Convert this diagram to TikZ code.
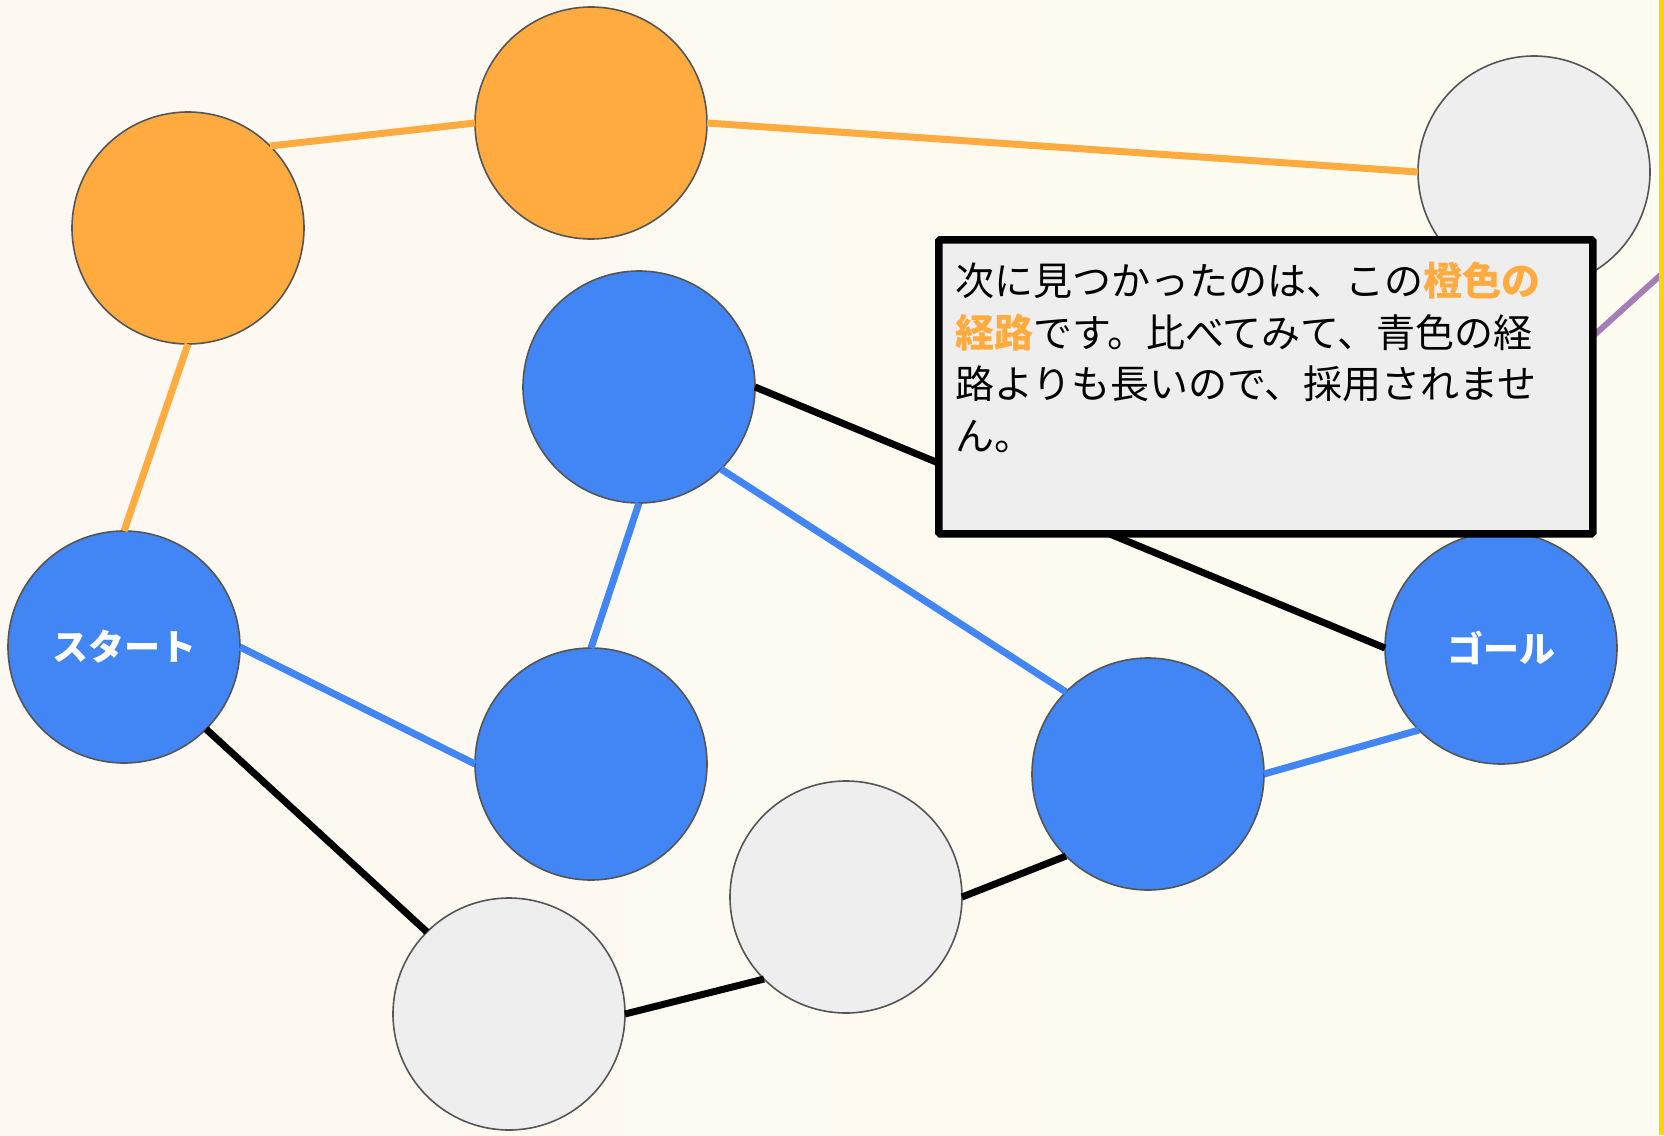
\documentclass[tikz,border=0pt]{standalone}
\usepackage{fontspec}
\newfontfamily\cjk{Noto Sans CJK JP}
\definecolor{bgA}{HTML}{FDF8F1}
\definecolor{bgB}{HTML}{FEFCF0}
\definecolor{orng}{HTML}{FFAB40}
\definecolor{blu}{HTML}{4285F4}
\definecolor{gry}{HTML}{EEEEEE}
\definecolor{rim}{HTML}{555555}
\definecolor{purp}{HTML}{A77DB5}
\definecolor{yel}{HTML}{FFD500}
\tikzset{
  vtx/.style={circle, draw=rim, line width=1.6pt, minimum size=232pt, inner sep=0pt, outer sep=0pt},
  bluev/.style={vtx, fill=blu, text=white, font=\cjk\bfseries\fontsize{36}{40}\selectfont},
  orangev/.style={vtx, fill=orng},
  grayv/.style={vtx, fill=gry},
  oedge/.style={draw=orng, line width=7pt},
  bedge/.style={draw=blu, line width=7pt},
  kedge/.style={draw=black, line width=7pt},
  pedge/.style={draw=purp, line width=6pt},
  callout/.style={draw=black, fill=gry, line width=7.5pt, rounded corners=1.5pt, minimum width=654pt, minimum height=294pt, inner sep=0pt},
  callouttext/.style={align=left, inner sep=0pt, font=\cjk\fontsize{39}{51.5}\selectfont}
}
\begin{document}
\begin{tikzpicture}[x=1pt,y=-1pt]
\shade[left color=bgA, right color=bgB] (0,0) rectangle (1664,1135);
\useasboundingbox (0,0) rectangle (1664,1135);
% nodes
\node[orangev] (o1) at (188,228) {};
\node[orangev] (o2) at (591,123) {};
\node[grayv] (gtr) at (1534,172) {};
\node[bluev] (b1) at (639,387) {};
\node[bluev] (start) at (124,647) {スタート};
\node[bluev] (b2) at (591,764) {};
\node[bluev] (b3) at (1148,774) {};
\node[bluev] (goal) at (1501,648) {ゴール};
\node[grayv] (g1) at (846,897) {};
\node[grayv] (g2) at (509,1014) {};
% edges
\draw[oedge] (o1.north east) -- (o2.west);
\draw[oedge] (o2.east) -- (gtr.west);
\draw[oedge] (o1.south) -- (start.north);
\draw[bedge] (start.east) -- (b2.west);
\draw[bedge] (b2.north) -- (b1.south);
\draw[bedge] (b1.south east) -- (b3.north west);
\draw[bedge] (b3.east) -- (goal.south west);
\draw[kedge] (start.south east) -- (g2.north west);
\draw[kedge] (g2.east) -- (g1.south west);
\draw[kedge] (g1.east) -- (b3.south west);
\draw[kedge] (b1.east) -- (goal.west);
\coordinate (pa) at (1560,366);
\coordinate (pb) at (1664,272);
\draw[pedge] (pa) -- (pb);
% callout
\node[callout, anchor=north west] (box) at (935,236) {};
\node[callouttext, anchor=north west] (boxtext) at (955,262) {次に見つかったのは、この{\color{orng}\bfseries 橙色の}\\{\color{orng}\bfseries 経路}です。比べてみて、青色の経\\路よりも長いので、採用されませ\\ん。};
% right border
\coordinate (ya) at (1661.5,0);
\coordinate (yb) at (1661.5,1135);
\draw[draw=yel, line width=5pt] (ya) -- (yb);
\end{tikzpicture}
\end{document}
